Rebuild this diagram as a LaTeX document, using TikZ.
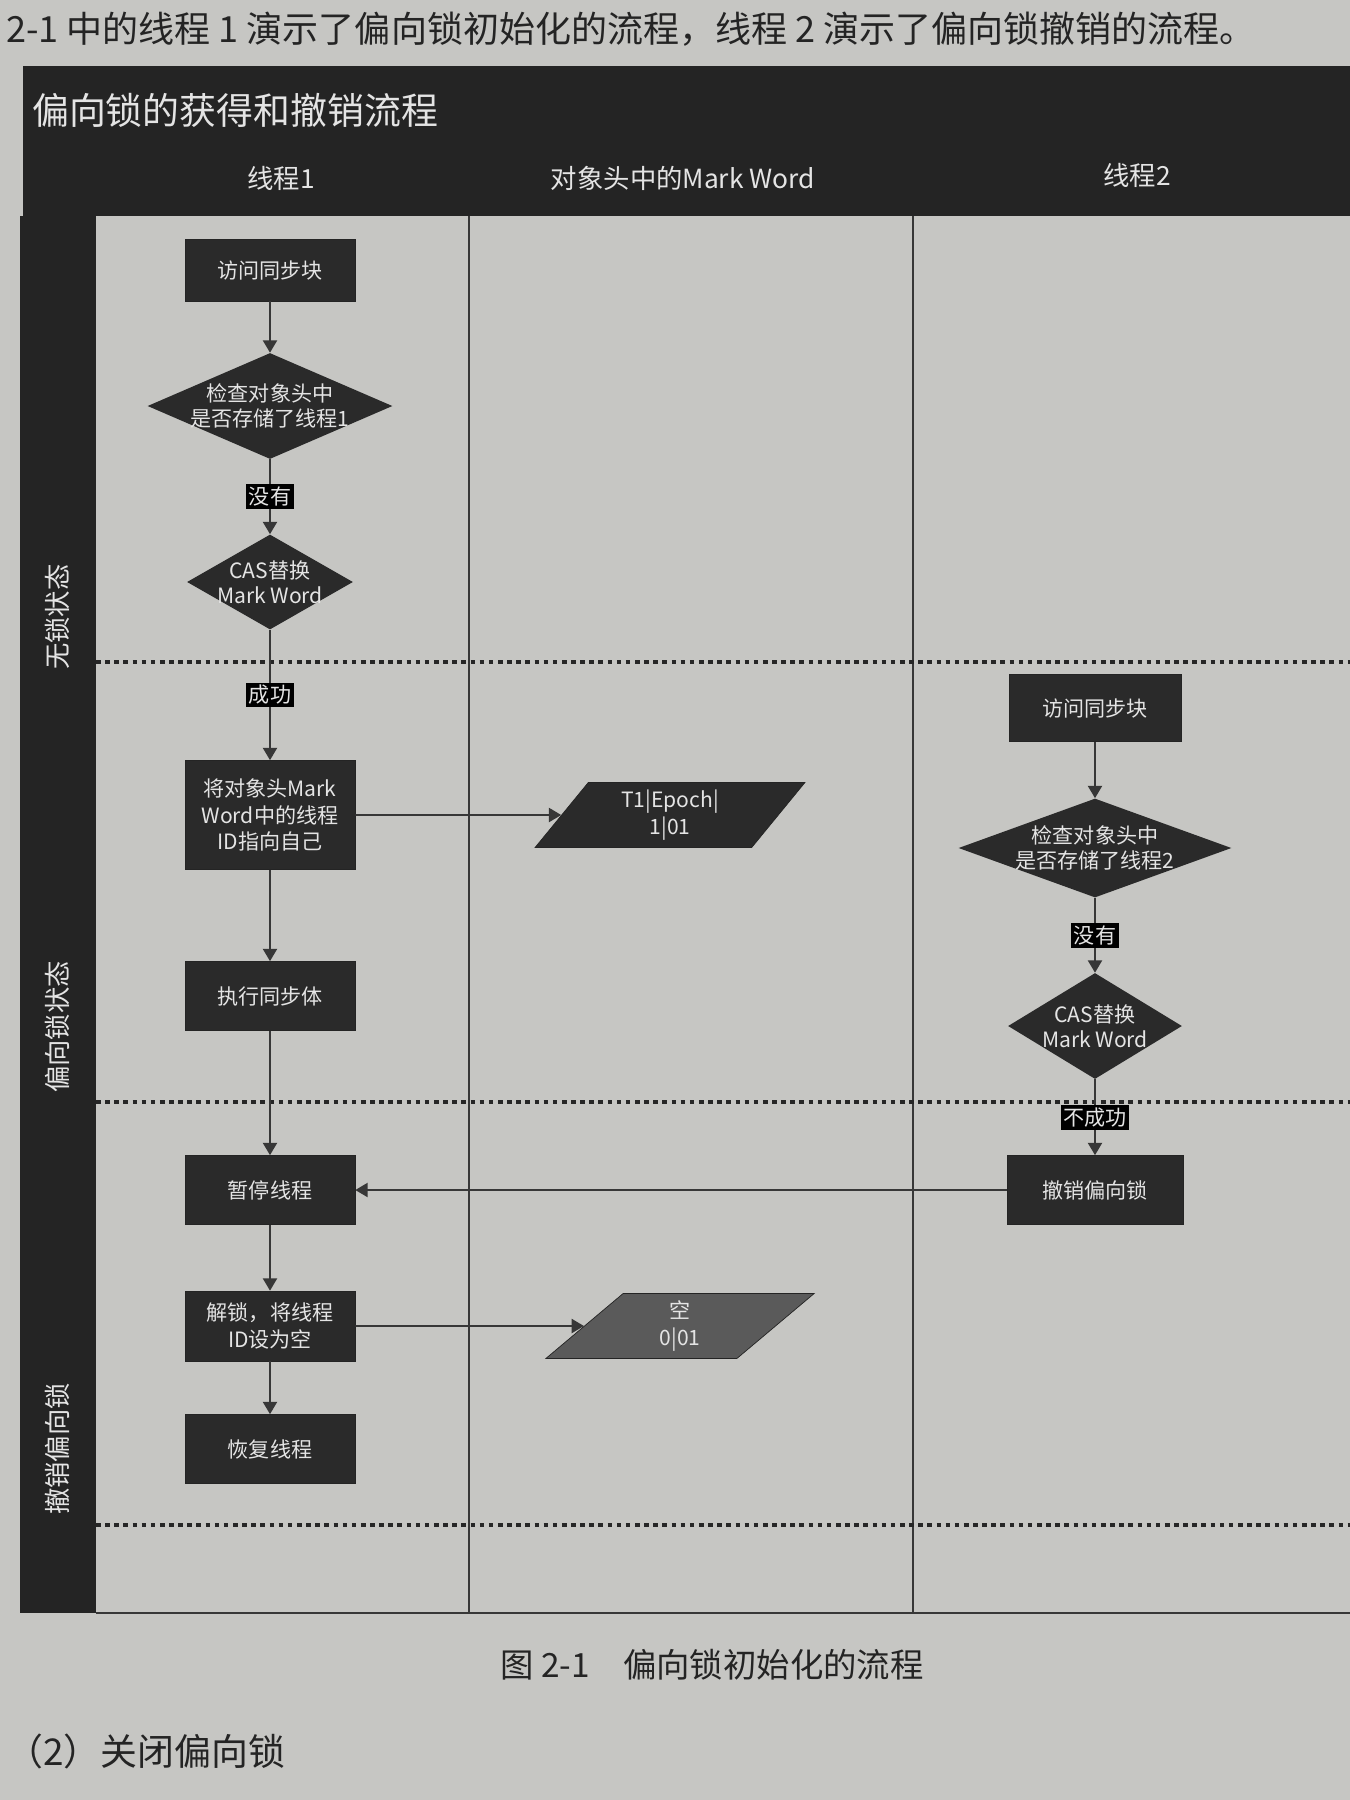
\documentclass[tikz,border=0pt]{standalone}
\usepackage{fontspec}
\setmainfont{Noto Sans CJK SC}
\usepackage{xcolor}
\usetikzlibrary{arrows.meta, positioning, shapes.geometric}

\definecolor{paper}{RGB}{198,198,195}
\definecolor{ink}{RGB}{36,36,36}
\definecolor{boxfill}{RGB}{42,42,42}
\definecolor{greyfill}{RGB}{90,90,90}
\definecolor{boxtext}{RGB}{228,228,228}
\definecolor{wire}{RGB}{55,55,55}

\tikzset{
  stepbox/.style={draw=ink, fill=boxfill, text=boxtext, font=\fontsize{12}{15}\selectfont,
    align=center, minimum width=3.4cm, minimum height=1.3cm, inner sep=2pt},
  decision/.style={diamond, fill=boxfill, inner sep=0pt},
  dectext/.style={text=boxtext, font=\fontsize{12}{14.5}\selectfont, align=center},
  wordbox/.style={trapezium, trapezium left angle=60, trapezium right angle=120,
    trapezium stretches=true, draw=ink, fill=boxfill, text=boxtext,
    font=\fontsize{12}{15}\selectfont, align=center, minimum width=5.4cm, minimum height=1.3cm},
  flag/.style={fill=black, text=boxtext, font=\fontsize{12}{12}\selectfont, inner sep=1.5pt},
  flow/.style={draw=wire, line width=1.1pt, -{Triangle[width=8pt,length=7pt]}},
  swimline/.style={draw=wire, line width=1.2pt},
  rowline/.style={draw=black!85, line width=2.2pt, dash pattern=on 2.6pt off 2.6pt},
  rowname/.style={rotate=90, text=boxtext, font=\fontsize{15}{15}\selectfont},
}

\begin{document}
\begin{tikzpicture}[x=0.02cm, y=-0.02cm]
    \useasboundingbox (0,0) rectangle (1350,1800);
    \fill[paper] (0,0) rectangle (1350,1800);

    % Page text
    \node[anchor=west, text=ink, font=\fontsize{20.5}{20.5}\selectfont] (intro) at (0,29)
        {2-1 中的线程 1 演示了偏向锁初始化的流程，线程 2 演示了偏向锁撤销的流程。};
    \node[text=ink, font=\fontsize{19}{19}\selectfont] (caption) at (712,1665)
        {图 2-1\quad 偏向锁初始化的流程};
    \node[anchor=west, text=ink, font=\fontsize{21}{21}\selectfont] (next) at (0,1751)
        {（2）关闭偏向锁};

    % Frame and swimlanes
    \fill[ink] (23,66) rectangle (1350,216);
    \fill[ink] (20,216) rectangle (96,1613);
    \draw[swimline] (469,216) -- (469,1613);
    \draw[swimline] (913,216) -- (913,1613);
    \draw[rowline] (96,662) -- (1350,662);
    \draw[rowline] (96,1102) -- (1350,1102);
    \draw[rowline] (96,1525) -- (1350,1525);
    \draw[wire, line width=1.5pt] (96,1613) -- (1350,1613);

    \node[anchor=west, text=boxtext, font=\fontsize{21}{21}\selectfont] (title) at (26,110)
        {偏向锁的获得和撤销流程};
    \node[text=boxtext, font=\fontsize{15}{15}\selectfont] (lane1) at (281,178) {线程1};
    \node[text=boxtext, font=\fontsize{15}{15}\selectfont] (lane2) at (683,178) {对象头中的Mark Word};
    \node[text=boxtext, font=\fontsize{15}{15}\selectfont] (lane3) at (1137,175) {线程2};

    \node[rowname] (row1) at (57,617) {无锁状态};
    \node[rowname] (row2) at (57,1027) {偏向锁状态};
    \node[rowname] (row3) at (57,1449) {撤销偏向锁};

    % Thread 1
    \node[stepbox, minimum height=1.24cm] (acc1) at (270,270) {访问同步块};
    \node[decision, minimum width=4.9cm, minimum height=2.12cm,
        label={[dectext]center:{检查对象头中\\是否存储了线程1}}] (chk1) at (270,406) {};
    \node[decision, minimum width=3.32cm, minimum height=1.9cm,
        label={[dectext]center:{CAS替换\\Mark Word}}] (cas1) at (270,582) {};
    \node[stepbox, minimum height=2.18cm] (set1) at (270,815) {将对象头Mark\\Word中的线程\\ID指向自己};
    \node[stepbox, minimum height=1.38cm] (exec1) at (270,996) {执行同步体};
    \node[stepbox, minimum height=1.38cm] (pause1) at (270,1190) {暂停线程};
    \node[stepbox, minimum height=1.4cm] (unlock1) at (270,1326) {解锁，将线程\\ID设为空};
    \node[stepbox, minimum height=1.38cm] (resume1) at (270,1449) {恢复线程};

    % Mark Word
    \node[wordbox] (word1) at (670,815) {T1|Epoch|\\1|01};
    \node[wordbox, fill=greyfill] (null1) at (680,1326) {空\\0|01};

    % Thread 2
    \node[stepbox, minimum width=3.44cm, minimum height=1.34cm] (acc2) at (1095,708) {访问同步块};
    \node[decision, minimum width=5.46cm, minimum height=1.98cm,
        label={[dectext]center:{检查对象头中\\是否存储了线程2}}] (chk2) at (1095,848) {};
    \node[decision, minimum width=3.48cm, minimum height=2.12cm,
        label={[dectext]center:{CAS替换\\Mark Word}}] (cas2) at (1095,1026) {};
    \node[stepbox, minimum width=3.52cm, minimum height=1.38cm] (revoke2) at (1095,1190) {撤销偏向锁};

    % Connectors
    \draw[flow] (acc1) -- (chk1);
    \draw[flow] (chk1) -- node[flag] {没有} (cas1);
    \draw[flow] (cas1) -- node[flag] {成功} (set1);
    \draw[flow] (set1) -- (word1);
    \draw[flow] (set1) -- (exec1);
    \draw[flow] (exec1) -- (pause1);
    \draw[flow] (pause1) -- (unlock1);
    \draw[flow] (unlock1) -- (null1);
    \draw[flow] (unlock1) -- (resume1);
    \draw[flow] (acc2) -- (chk2);
    \draw[flow] (chk2) -- node[flag] {没有} (cas2);
    \draw[flow] (cas2) -- node[flag] {不成功} (revoke2);
    \draw[flow] (revoke2) -- (pause1);
\end{tikzpicture}
\end{document}
